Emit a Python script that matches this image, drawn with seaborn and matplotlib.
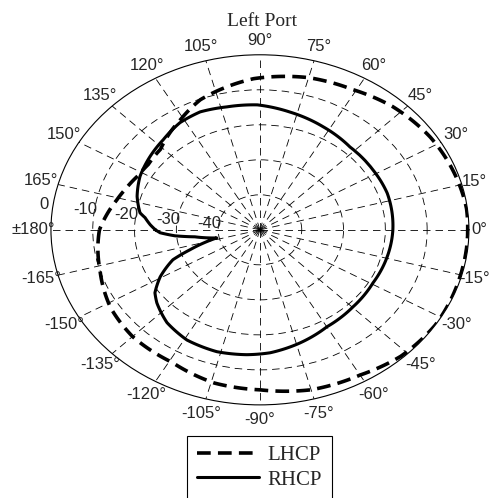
import numpy as np
import pandas as pd
import matplotlib
matplotlib.use("Agg")
import matplotlib.pyplot as plt
import seaborn as sns

# ---------------- data ----------------
lhcp_angle = [-180, -163, -148, -135, -119, -104, -90, -75, -60, -47, -33, -16,
              0, 7, 20, 33, 48, 61, 75, 92, 101, 111, 121, 136, 145, 152, 160, 166, 180]
lhcp_db = [-11.6, -10.0, -7.9, -6.9, -6.7, -4.9, -4.3, -2.7, -2.1, -0.6, 0.0, -0.3,
           -0.3, -0.2, -0.8, -1.4, -2.6, -4.2, -5.0, -6.8, -8.4, -10.2, -13.2, -16.9, -17.4, -17.0, -15.8, -14.7, -11.6]

rhcp_angle = [-180, -178, -175.2, -172.7, -167.4, -161.2, -157.7, -150.6, -144.4, -139.8, -130, -119,
              -106.5, -95, -86, -73.5, -60, -44.7, -29.3, -14.2, 0, 19, 32.4, 47.7, 62.9, 78,
              91, 102.7, 113, 122, 132, 141.6, 152, 162, 170.4, 172.8, 176.8, 180]
rhcp_db = [-25.0, -26.1, -29.6, -34.3, -39.4, -32.3, -27.5, -22.6, -19.1, -17.7, -15.4, -14.0,
           -13.7, -14.2, -14.8, -16.3, -18.0, -18.7, -19.0, -18.6, -18.2, -17.8, -18.0, -18.0, -16.9, -15.6,
           -14.3, -14.0, -13.4, -13.9, -15.4, -16.4, -17.5, -19.1, -20.9, -22.3, -23.7, -25.0]

r_ticks = [0, -10, -20, -30, -40]
r_tick_labels = ["0", "-10", "-20", "-30", "-40"]
theta_ticks = list(range(-165, 181, 15))
theta_tick_labels = [("\u00b1180\u00b0" if a == 180 else f"{a}\u00b0") for a in theta_ticks]

title = "Left Port"
series_names = ["LHCP", "RHCP"]

# ---------------- styling ----------------
sns.set_style("white")
plt.rcParams["font.family"] = ["Liberation Sans", "DejaVu Sans"]

fig = plt.figure(figsize=(4.9, 4.98), dpi=100)
ax = fig.add_axes([0.104, 0.187, 0.853, 0.703], projection="polar")
ax.set_aspect("auto")
ax.set_ylim(-50, 0)

grid_dash = (0, (9, 6))
ax.set_xticks(np.deg2rad(np.arange(0, 360, 15)))
ax.set_xticklabels([])
ax.set_yticks([-40, -30, -20, -10])
ax.set_yticklabels([])
ax.grid(True, color="black", linewidth=0.6, linestyle=grid_dash)
ax.spines["polar"].set_linewidth(0.8)
ax.spines["polar"].set_color("black")

lhcp_df = pd.DataFrame({"theta": np.deg2rad(lhcp_angle), "db": lhcp_db})
rhcp_df = pd.DataFrame({"theta": np.deg2rad(rhcp_angle), "db": rhcp_db})

sns.lineplot(data=lhcp_df, x="theta", y="db", ax=ax, sort=False, estimator=None,
             color="black", linewidth=2.6, linestyle=(0, (3.8, 2.0)), label=series_names[0])
sns.lineplot(data=rhcp_df, x="theta", y="db", ax=ax, sort=False, estimator=None,
             color="black", linewidth=2.2, linestyle="-", label=series_names[1])
for ln in ax.lines:
    ln.get_path()._interpolation_steps = 20

ax.set_xlabel("")
ax.set_ylabel("")
ax.set_ylim(-50, 0)

# angular labels
for a, lab in zip(theta_ticks, theta_tick_labels):
    rr = 4.2
    if a == 0:
        rr = 2.4
    elif abs(a) == 15:
        rr = 3.2
    ax.text(np.deg2rad(a), rr, lab, ha="center", va="center", fontsize=12)

# radial labels
for rv, lab in zip(r_ticks, r_tick_labels):
    ax.text(np.deg2rad(172), rv + 2.2, lab, ha="center", va="center", fontsize=12)

fig.text(262 / 490, 1 - 21 / 498, title, ha="center", va="center",
         fontsize=14, family=["Liberation Serif", "DejaVu Serif"])

if ax.legend_:
    ax.legend_.remove()
handles, labels = ax.get_legend_handles_labels()
leg = fig.legend(handles, labels, loc="upper center", bbox_to_anchor=(259.5 / 490, 1 - 436 / 498),
                 frameon=True, fancybox=False, shadow=False, framealpha=1, edgecolor="black",
                 prop={"family": ["Liberation Serif", "DejaVu Serif"], "size": 15},
                 handlelength=3.0, handletextpad=0.4, labelspacing=0.25, borderpad=0.45,
                 borderaxespad=0)
leg.get_frame().set_linewidth(0.8)

fig.savefig("out.png", dpi=100)
